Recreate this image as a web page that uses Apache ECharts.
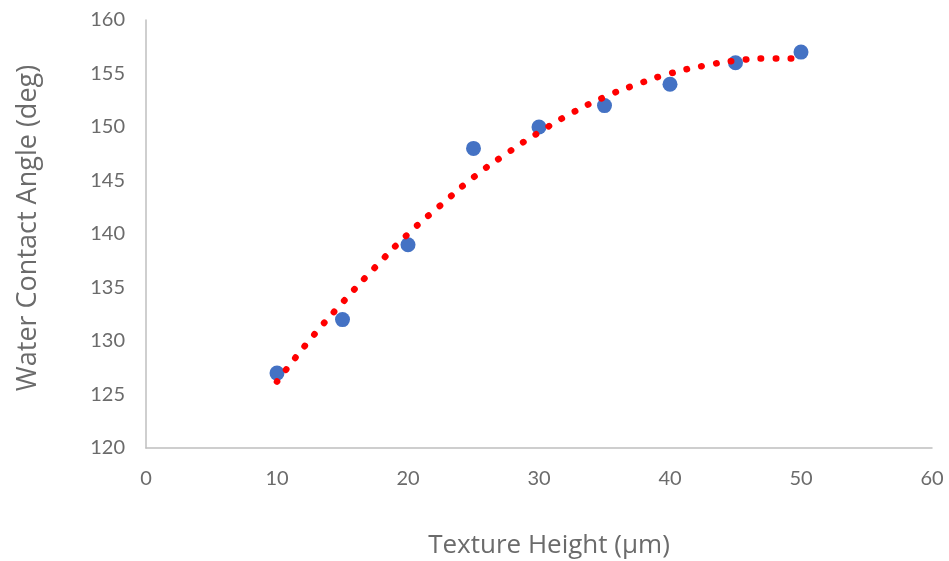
<!DOCTYPE html>
<html>
<head>
<meta charset="utf-8">
<script src="https://cdn.jsdelivr.net/npm/echarts@6/dist/echarts.min.js"></script>
<style>
  html, body { margin: 0; padding: 0; background: #fff; }
  #chart { width: 949px; height: 561px; }
</style>
</head>
<body>
<div id="chart"></div>
<script>
// Measured contact angles per texture height
const heights = [10, 15, 20, 25, 30, 35, 40, 45, 50];
const angles = [127, 132, 139, 148, 150, 152, 154, 156, 157];

// Polynomial trendline, sampled every 2.5 µm
const trendX = [10, 12.5, 15, 17.5, 20, 22.5, 25, 27.5, 30, 32.5, 35, 37.5, 40, 42.5, 45, 47.5, 50];
const trendY = [126.2, 130.1, 133.6, 136.9, 140.0, 142.7, 145.3, 147.5, 149.5, 151.3, 152.8, 154.0, 155.0, 155.7, 156.2, 156.4, 156.4];

const xTitle = 'Texture Height (µm)';
const yTitle = 'Water Contact Angle (deg)';

const tickFont = 'Lato, "Open Sans", sans-serif';
const titleFont = '"Open Sans", Lato, sans-serif';
const labelColor = '#6b6b6b';
const axisColor = '#bfbfbf';

const chart = echarts.init(document.getElementById('chart'), null, { renderer: 'canvas' });

chart.setOption({
  animation: false,
  backgroundColor: '#ffffff',
  grid: { left: 146, right: 17, top: 20, bottom: 113, outerBoundsMode: 'none' },
  xAxis: {
    type: 'value',
    min: 0, max: 60, interval: 10,
    name: xTitle,
    nameLocation: 'middle',
    nameGap: 85,
    nameTextStyle: { fontFamily: titleFont, fontSize: 26, color: labelColor, padding: [0, 0, 0, 20] },
    axisLine: { show: true, lineStyle: { color: axisColor, width: 1.5 } },
    axisTick: { show: false },
    splitLine: { show: false },
    axisLabel: { fontFamily: tickFont, fontSize: 20, color: labelColor, margin: 21 }
  },
  yAxis: {
    type: 'value',
    min: 120, max: 160, interval: 5,
    name: yTitle,
    nameLocation: 'middle',
    nameGap: 104,
    nameTextStyle: { fontFamily: titleFont, fontSize: 27, color: labelColor, padding: [0, 0, 0, 12] },
    axisLine: { show: true, lineStyle: { color: axisColor, width: 1.5 } },
    axisTick: { show: false },
    splitLine: { show: false },
    axisLabel: { fontFamily: tickFont, fontSize: 20, color: labelColor, margin: 21 }
  },
  series: [
    {
      type: 'scatter',
      data: heights.map((h, i) => [h, angles[i]]),
      symbol: 'circle',
      symbolSize: 15,
      itemStyle: { color: '#4472C4', opacity: 1 },
      z: 2
    },
    {
      type: 'line',
      data: trendX.map((h, i) => [h, trendY[i]]),
      smooth: true,
      showSymbol: false,
      lineStyle: { color: '#ff0000', width: 6.5, type: [0.5, 14.5], cap: 'round' },
      z: 3
    }
  ]
});
</script>
</body>
</html>
